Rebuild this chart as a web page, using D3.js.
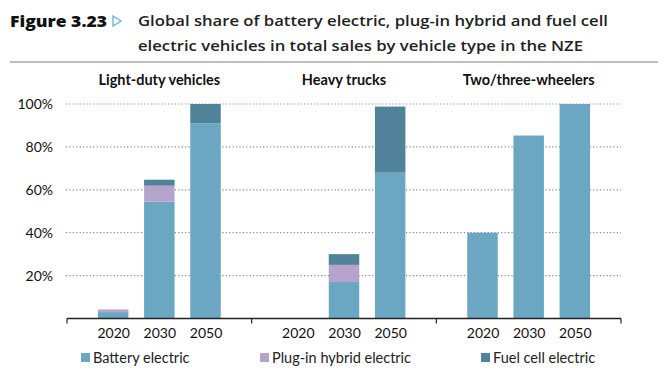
<!DOCTYPE html>
<html><head><meta charset="utf-8">
<script src="https://cdn.jsdelivr.net/npm/d3@7"></script>
<style>body{margin:0;background:#fff}svg{display:block}</style>
</head><body>
<svg id="c" width="665" height="380"></svg>
<script>
const panels = ["Light-duty vehicles", "Heavy trucks", "Two/three-wheelers"];
const years = ["2020", "2030", "2050"];
const seriesNames = ["Battery electric", "Plug-in hybrid electric", "Fuel cell electric"];
// values per panel, per year
const battery = [[3, 54.5, 91], [0.2, 17, 68], [40, 85.3, 100]];
const plugin  = [[1.2, 7.4, 0], [0, 8, 0], [0, 0, 0]];
const fuelcell= [[0, 2.8, 9], [0, 5, 30.8], [0, 0, 0]];
const yTicks = [20, 40, 60, 80, 100];
const colors = ["#6ba7c3", "#b5a3cc", "#50829a"];

const svg = d3.select("#c");

// Title
svg.append("text").attr("x", 10).attr("y", 27).attr("font-family", "Open Sans")
  .attr("font-weight", 800).attr("font-size", 16).attr("fill", "#111")
  .attr("textLength", 97).attr("lengthAdjust", "spacingAndGlyphs").text("Figure 3.23");
svg.append("path").attr("d", "M113,16 L121,21 L113,26 Z").attr("fill", "none")
  .attr("stroke", "#6fb3d6").attr("stroke-width", 1.4);
svg.append("text").attr("x", 138).attr("y", 26).attr("font-family", "Open Sans")
  .attr("font-weight", 600).attr("font-size", 15).attr("fill", "#222")
  .attr("textLength", 470).attr("lengthAdjust", "spacingAndGlyphs")
  .text("Global share of battery electric, plug-in hybrid and fuel cell");
svg.append("text").attr("x", 138).attr("y", 51).attr("font-family", "Open Sans")
  .attr("font-weight", 600).attr("font-size", 15).attr("fill", "#222")
  .attr("textLength", 445).attr("lengthAdjust", "spacingAndGlyphs")
  .text("electric vehicles in total sales by vehicle type in the NZE");
svg.append("line").attr("x1", 10).attr("x2", 658).attr("y1", 62).attr("y2", 62)
  .attr("stroke", "#bdbdbd").attr("stroke-width", 2);

const x0 = 67, x1 = 621;
const y = d3.scaleLinear().domain([0, 100]).range([318.5, 104]);
const px = d3.scaleBand().domain(panels).range([x0, x1]).padding(0);
const xp = d3.scalePoint().domain(years).range([0, px.bandwidth()]).padding(1);
const barW = 30.5;

// grid
svg.append("g").selectAll("line").data(yTicks).join("line")
  .attr("x1", x0 - 1).attr("x2", x1).attr("y1", d => y(d)).attr("y2", d => y(d))
  .attr("stroke", "#888").attr("stroke-width", 1.2).attr("stroke-dasharray", "1.2,2.2");

// y axis labels
const yAxis = d3.axisLeft(y).tickValues(yTicks).tickFormat(d => d + "%").tickSize(0).tickPadding(0);
const ga = svg.append("g").attr("transform", "translate(53,0)").call(yAxis);
ga.select(".domain").remove();
ga.selectAll("text").attr("font-family", "Lato").attr("font-size", 14).attr("fill", "#111").attr("dy", "0.35em");

// bars
panels.forEach((p, pi) => {
  const g = svg.append("g").attr("transform", `translate(${px(p)},0)`);
  years.forEach((yr, yi) => {
    const vals = [battery[pi][yi], plugin[pi][yi], fuelcell[pi][yi]];
    let base = 0;
    vals.forEach((v, si) => {
      if (v > 0) {
        g.append("rect").attr("x", xp(yr) - barW / 2).attr("width", barW)
          .attr("y", y(base + v)).attr("height", y(base) - y(base + v))
          .attr("fill", colors[si]);
      }
      base += v;
    });
  });
  const xa = d3.axisBottom(xp).tickSize(0).tickPadding(10);
  const gx = g.append("g").attr("transform", `translate(0,${y(0)})`).call(xa);
  gx.select(".domain").remove();
  gx.selectAll("text").attr("font-family", "Lato").attr("font-size", 14).attr("fill", "#111");
  svg.append("text").attr("x", px(p) + px.bandwidth() / 2).attr("y", 85)
    .attr("text-anchor", "middle").attr("font-family", "Lato").attr("font-weight", 700)
    .attr("font-size", 14.5).attr("fill", "#111").text(p);
});

// baseline axis
svg.append("line").attr("x1", x0).attr("x2", x1).attr("y1", y(0)).attr("y2", y(0))
  .attr("stroke", "#222").attr("stroke-width", 1.3);
svg.append("g").selectAll("line").data(panels.map(p => px(p)).concat([x1])).join("line")
  .attr("x1", d => d).attr("x2", d => d).attr("y1", y(0)).attr("y2", y(0) + 5)
  .attr("stroke", "#222").attr("stroke-width", 1.2);

// legend
const legX = [81, 260, 481];
seriesNames.forEach((s, i) => {
  svg.append("rect").attr("x", legX[i]).attr("y", 353).attr("width", 9).attr("height", 9).attr("fill", colors[i]);
  svg.append("text").attr("x", legX[i] + 12).attr("y", 362.5).attr("font-family", "Lato")
    .attr("font-size", 14.5).attr("fill", "#222").text(s);
});
</script>
</body></html>
